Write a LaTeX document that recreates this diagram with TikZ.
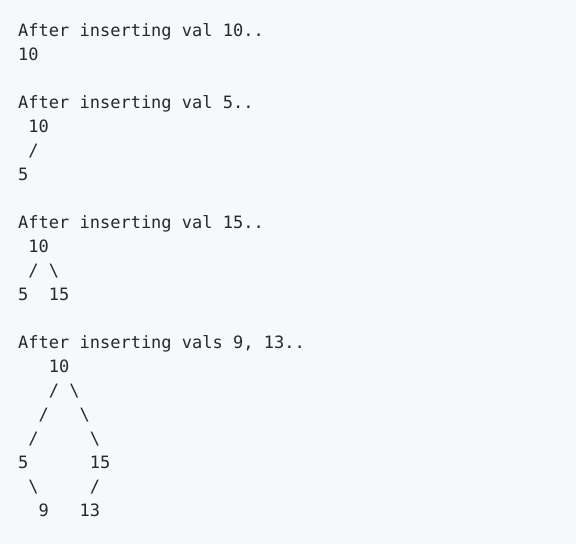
\documentclass[tikz,border=0pt]{standalone}
\usepackage{fontspec}
\setmonofont{DejaVu Sans Mono}
\definecolor{codebg}{HTML}{F6F8FA}
\definecolor{codefg}{HTML}{24292E}

\begin{document}
\begin{tikzpicture}[x=1pt, y=-1pt, txt/.style={anchor=base west, inner sep=0pt, text=codefg, font=\ttfamily\fontsize{17}{24}\selectfont}]
\fill[codebg] (0,0) rectangle (576,544);
% one unit = one character cell / one line
\begin{scope}[shift={(18,36.5)}, x=10.23pt, y=-24pt]
\node[txt] (h1) at (0,0) {After inserting val 10..};
\node[txt] (a10) at (0,1) {10};

\node[txt] (h2) at (0,3) {After inserting val 5..};
\node[txt] (b10) at (1,4) {10};
\node[txt] (bl) at (1,5) {/};
\node[txt] (b5) at (0,6) {5};

\node[txt] (h3) at (0,8) {After inserting val 15..};
\node[txt] (c10) at (1,9) {10};
\node[txt] (cl) at (1,10) {/};
\node[txt] (cr) at (3,10) {\textbackslash};
\node[txt] (c5) at (0,11) {5};
\node[txt] (c15) at (3,11) {15};

\node[txt] (h4) at (0,13) {After inserting vals 9, 13..};
\node[txt] (d10) at (3,14) {10};
\node[txt] (dl1) at (3,15) {/};
\node[txt] (dr1) at (5,15) {\textbackslash};
\node[txt] (dl2) at (2,16) {/};
\node[txt] (dr2) at (6,16) {\textbackslash};
\node[txt] (dl3) at (1,17) {/};
\node[txt] (dr3) at (7,17) {\textbackslash};
\node[txt] (d5) at (0,18) {5};
\node[txt] (d15) at (7,18) {15};
\node[txt] (d5r) at (1,19) {\textbackslash};
\node[txt] (d15l) at (7,19) {/};
\node[txt] (d9) at (2,20) {9};
\node[txt] (d13) at (6,20) {13};
\end{scope}
\end{tikzpicture}
\end{document}
